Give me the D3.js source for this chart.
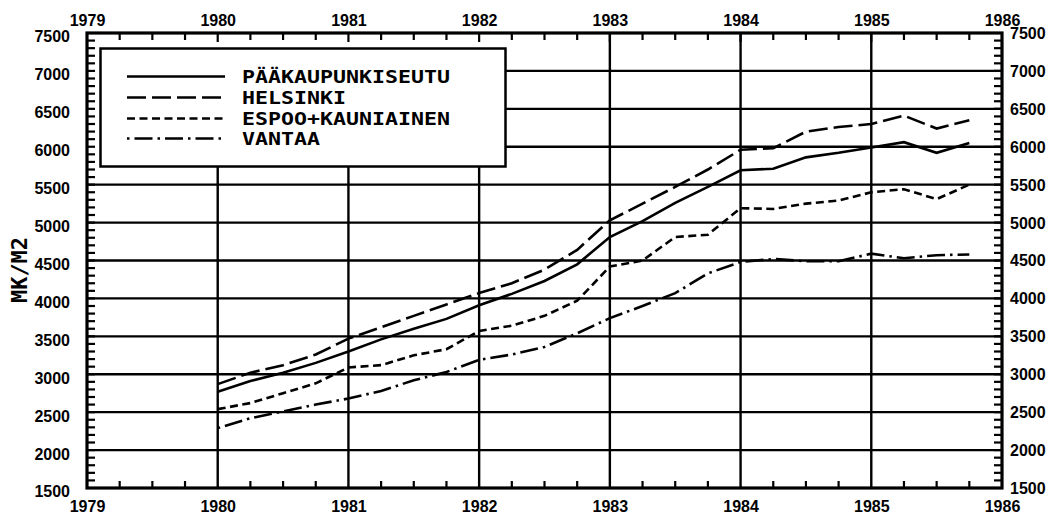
<!DOCTYPE html>
<html>
<head>
<meta charset="utf-8">
<script src="https://cdn.jsdelivr.net/npm/d3@7"></script>
<style>
  body { margin: 0; background: #fff; }
  svg { display: block; }
</style>
</head>
<body>
<div id="chart"></div>
<script>
// Chart size and plot frame
const width = 1050;
const height = 515;
const plotLeft = 87, plotRight = 1002, plotTop = 33, plotBottom = 488;

// Quarterly observations 1980 - 1985
const quarters = [1980.0, 1980.25, 1980.5, 1980.75, 1981.0, 1981.25, 1981.5, 1981.75,
                  1982.0, 1982.25, 1982.5, 1982.75, 1983.0, 1983.25, 1983.5, 1983.75,
                  1984.0, 1984.25, 1984.5, 1984.75, 1985.0, 1985.25, 1985.5, 1985.75];

const seriesNames = ["PÄÄKAUPUNKISEUTU", "HELSINKI", "ESPOO+KAUNIAINEN", "VANTAA"];

const paakaupunkiseutu = [2770, 2910, 3020, 3150, 3300, 3460, 3600, 3730,
                          3910, 4060, 4230, 4450, 4810, 5020, 5260, 5470,
                          5690, 5710, 5860, 5920, 5990, 6060, 5920, 6050];
const helsinki = [2870, 3020, 3120, 3260, 3470, 3620, 3770, 3920,
                  4070, 4200, 4380, 4640, 5030, 5250, 5470, 5700,
                  5960, 5980, 6200, 6260, 6300, 6410, 6240, 6350];
const espooKauniainen = [2540, 2620, 2750, 2880, 3090, 3120, 3250, 3330,
                         3570, 3640, 3770, 3970, 4420, 4500, 4810, 4840,
                         5190, 5180, 5250, 5290, 5400, 5440, 5310, 5500];
const vantaa = [2290, 2420, 2510, 2600, 2680, 2780, 2920, 3030,
                3190, 3260, 3360, 3540, 3740, 3900, 4070, 4330,
                4480, 4520, 4490, 4490, 4590, 4530, 4570, 4580];

// Axis ticks
const yearTicks = [1979, 1980, 1981, 1982, 1983, 1984, 1985, 1986];
const gridYears = [1980, 1981, 1982, 1983, 1984, 1985];
const valueTicks = [1500, 2000, 2500, 3000, 3500, 4000, 4500, 5000, 5500, 6000, 6500, 7000, 7500];
const gridValues = [2000, 2500, 3000, 3500, 4000, 4500, 5000, 5500, 6000, 6500, 7000];

const allSeries = [paakaupunkiseutu, helsinki, espooKauniainen, vantaa];
const dashes = [null, "19,6", "8,4.5", "2.5,5,18,5"];

const x = d3.scaleLinear().domain([1979, 1986]).range([plotLeft, plotRight]);
const y = d3.scaleLinear().domain([1500, 7500]).range([plotBottom, plotTop]);

// minor ticks: quarters on x, hundreds on y
const quarterTicks = d3.range(1979, 1986.01, 0.25).filter(d => d % 1 !== 0);
const hundredTicks = d3.range(1600, 7500, 100);

const svg = d3.select("#chart")
    .append("svg")
    .attr("width", width)
    .attr("height", height);

svg.append("rect").attr("width", width).attr("height", height).attr("fill", "#fff");

// gridlines
svg.append("g")
    .selectAll("line")
    .data(gridValues)
    .enter()
    .append("line")
    .attr("x1", plotLeft).attr("x2", plotRight)
    .attr("y1", d => y(d)).attr("y2", d => y(d))
    .attr("stroke", "#000").attr("stroke-width", 2.4);

svg.append("g")
    .selectAll("line")
    .data(gridYears)
    .enter()
    .append("line")
    .attr("x1", d => x(d)).attr("x2", d => x(d))
    .attr("y1", plotTop).attr("y2", plotBottom)
    .attr("stroke", "#000").attr("stroke-width", 2.4);

// data lines
const line = d3.line()
    .x((d, i) => x(quarters[i]))
    .y(d => y(d));

svg.append("g")
    .selectAll("path")
    .data(allSeries)
    .enter()
    .append("path")
    .attr("d", d => line(d))
    .attr("fill", "none")
    .attr("stroke", "#000")
    .attr("stroke-width", 2.6)
    .attr("stroke-dasharray", (d, i) => dashes[i]);

// legend: white mask over the grid, then the box
svg.append("rect")
    .attr("x", plotLeft + 1).attr("y", plotTop + 1)
    .attr("width", 506 - plotLeft - 1).attr("height", 167 - plotTop - 1)
    .attr("fill", "#fff");

svg.append("rect")
    .attr("x", 100.5).attr("y", 48.5)
    .attr("width", 405).attr("height", 118)
    .attr("fill", "#fff")
    .attr("stroke", "#000")
    .attr("stroke-width", 2.5);

const legendRows = [83, 104, 125, 145];

const legend = svg.append("g");
legend.selectAll("line")
    .data(seriesNames)
    .enter()
    .append("line")
    .attr("x1", 127).attr("x2", 225)
    .attr("y1", (d, i) => legendRows[i] - 6.5)
    .attr("y2", (d, i) => legendRows[i] - 6.5)
    .attr("stroke", "#000")
    .attr("stroke-width", 2.6)
    .attr("stroke-dasharray", (d, i) => dashes[i]);

legend.selectAll("text")
    .data(seriesNames)
    .enter()
    .append("text")
    .attr("x", 242)
    .attr("y", (d, i) => legendRows[i])
    .attr("font-family", "DejaVu Sans Mono, monospace")
    .attr("font-weight", "bold")
    .attr("font-size", 18)
    .attr("textLength", d => d.length * 13)
    .attr("lengthAdjust", "spacingAndGlyphs")
    .text(d => d);

// minor ticks
const ticks = svg.append("g").attr("stroke", "#000").attr("stroke-width", 2.2);
ticks.selectAll(".tt").data(quarterTicks).enter().append("line")
    .attr("x1", d => x(d)).attr("x2", d => x(d)).attr("y1", plotTop).attr("y2", plotTop + 7);
ticks.selectAll(".tb").data(quarterTicks).enter().append("line")
    .attr("x1", d => x(d)).attr("x2", d => x(d)).attr("y1", plotBottom).attr("y2", plotBottom - 7);
ticks.selectAll(".tl").data(hundredTicks).enter().append("line")
    .attr("x1", plotLeft).attr("x2", plotLeft + 8).attr("y1", d => y(d)).attr("y2", d => y(d));
ticks.selectAll(".tr").data(hundredTicks).enter().append("line")
    .attr("x1", plotRight).attr("x2", plotRight - 8).attr("y1", d => y(d)).attr("y2", d => y(d));
ticks.selectAll(".ty").data(gridYears).enter().append("line")
    .attr("x1", d => x(d)).attr("x2", d => x(d)).attr("y1", plotTop).attr("y2", plotTop + 9);

// frame
svg.append("rect")
    .attr("x", plotLeft).attr("y", plotTop)
    .attr("width", plotRight - plotLeft).attr("height", plotBottom - plotTop)
    .attr("fill", "none")
    .attr("stroke", "#000")
    .attr("stroke-width", 3.2);

// tick labels through d3 axes
function styleAxis(g) {
    g.select(".domain").remove();
    g.selectAll("text")
        .attr("font-family", "Liberation Sans, Arial, sans-serif")
        .attr("font-weight", "bold")
        .attr("font-size", 16)
        .attr("fill", "#000");
}

svg.append("g")
    .attr("transform", `translate(0,${plotTop})`)
    .call(d3.axisTop(x).tickValues(yearTicks).tickFormat(d3.format("d")).tickSize(0).tickPadding(7))
    .call(styleAxis);

svg.append("g")
    .attr("transform", `translate(0,${plotBottom})`)
    .call(d3.axisBottom(x).tickValues(yearTicks).tickFormat(d3.format("d")).tickSize(0).tickPadding(12.5))
    .call(styleAxis);

svg.append("g")
    .attr("transform", `translate(${plotLeft},0)`)
    .call(d3.axisLeft(y).tickValues(valueTicks).tickFormat(d3.format("d")).tickSize(0).tickPadding(17))
    .call(styleAxis)
    .call(g => g.selectAll("text").attr("dy", "0.56em"));

svg.append("g")
    .attr("transform", `translate(${plotRight},0)`)
    .call(d3.axisRight(y).tickValues(valueTicks).tickFormat(d3.format("d")).tickSize(0).tickPadding(8))
    .call(styleAxis)
    .call(g => g.selectAll("text").attr("dy", "0.34em"));

// y axis title
svg.append("text")
    .attr("transform", "translate(27,270) rotate(-90)")
    .attr("text-anchor", "middle")
    .attr("font-family", "DejaVu Sans Mono, monospace")
    .attr("font-weight", "bold")
    .attr("font-size", 21)
    .attr("textLength", 66)
    .attr("lengthAdjust", "spacingAndGlyphs")
    .text("MK/M2");
</script>
</body>
</html>
